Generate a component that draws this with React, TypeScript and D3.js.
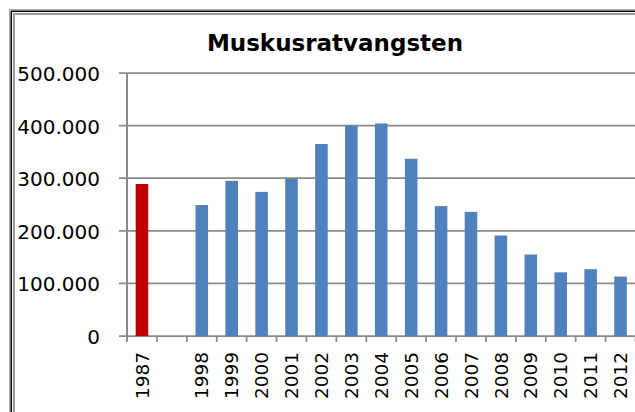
import React from "react";
import * as d3 from "d3";

// jaren (lege categorie = gat tussen 1987 en 1998)
const years = ["1987", "", "1998", "1999", "2000", "2001", "2002", "2003", "2004", "2005", "2006", "2007", "2008", "2009", "2010", "2011", "2012"];
const catches = [289000, null, 249000, 295000, 274000, 299000, 365000, 400000, 404000, 337000, 247000, 236000, 191000, 155000, 121000, 127000, 113000];
const yTicks = [0, 100000, 200000, 300000, 400000, 500000];
const title = "Muskusratvangsten";

const nl = d3.formatLocale({ decimal: ",", thousands: ".", grouping: [3], currency: ["€", ""] });
const fmt = nl.format(",");

const W = 635;
const H = 412;

const App = () => {
  const left = 127;
  const top = 73;
  const bottom = 336;
  const right = 635.5;

  const x = d3.scaleBand<string>().domain(years).range([left, right]).paddingInner(0).paddingOuter(0);
  const y = d3.scaleLinear().domain([0, 500000]).range([bottom, top]);
  const bw = x.bandwidth() * 0.42;
  const grid = "#8a8a8a";

  return (
    <svg width={W} height={H} style={{ position: "absolute", left: 0, top: 0, background: "#fff" }}>
      {/* kader */}
      <rect x={9.5} y={9.5} width={700} height={500} fill="none" stroke="#a8a8a8" strokeWidth={1} />
      <rect x={11.25} y={11.25} width={700} height={500} fill="none" stroke="#000" strokeWidth={1.5} />
      <rect x={14} y={14} width={700} height={500} fill="none" stroke="#999" strokeWidth={2} />

      <text x={335} y={51} textAnchor="middle" fontFamily="DejaVu Sans" fontWeight="bold" fontSize={23} fill="#000">
        {title}
      </text>

      {/* rasterlijnen + y-as */}
      {yTicks.map((t) => (
        <g key={t}>
          <line x1={119} x2={W} y1={y(t)} y2={y(t)} stroke={grid} strokeWidth={1.75} />
          <text x={100} y={y(t)} dy="0.4em" textAnchor="end" fontFamily="DejaVu Sans" fontSize={20} fill="#000">
            {fmt(t)}
          </text>
        </g>
      ))}
      <line x1={left} x2={left} y1={top} y2={bottom + 6} stroke={grid} strokeWidth={2} />

      {/* x-as tickmarks */}
      {years.map((yr, i) => (
        <line key={"t" + i} x1={(x(yr) as number) + x.bandwidth()} x2={(x(yr) as number) + x.bandwidth()} y1={bottom} y2={bottom + 6} stroke={grid} strokeWidth={1.75} />
      ))}

      {/* staven */}
      {years.map((yr, i) =>
        catches[i] == null ? null : (
          <rect
            key={"b" + i}
            x={(x(yr) as number) + (x.bandwidth() - bw) / 2}
            y={y(catches[i] as number)}
            width={bw}
            height={bottom - y(catches[i] as number)}
            fill={yr === "1987" ? "#C00000" : "#4F81BD"}
          />
        )
      )}

      {/* x-labels */}
      {years.map((yr, i) =>
        yr === "" ? null : (
          <text
            key={"l" + i}
            transform={`translate(${(x(yr) as number) + x.bandwidth() / 2},352) rotate(-90)`}
            dy="0.36em"
            textAnchor="end"
            fontFamily="DejaVu Sans"
            fontSize={18.5}
            fill="#000"
          >
            {yr}
          </text>
        )
      )}
    </svg>
  );
};

export default App;
